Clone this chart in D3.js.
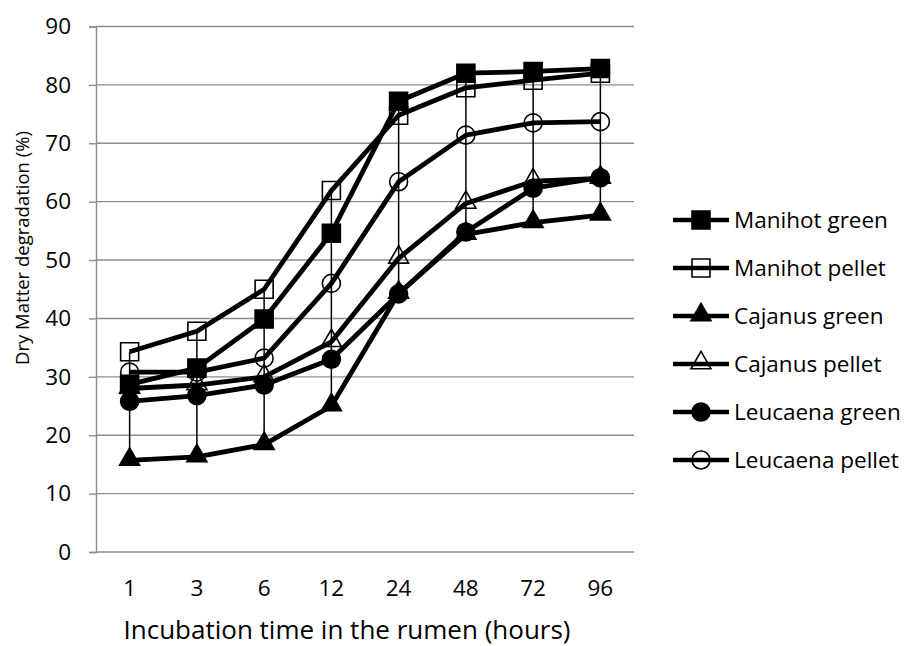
<!DOCTYPE html>
<html>
<head>
<meta charset="utf-8">
<script src="https://cdn.jsdelivr.net/npm/d3@7"></script>
<style>
  html, body { margin: 0; padding: 0; background: #fff; }
  svg { display: block; }
  text { font-family: "Open Sans", Lato, sans-serif; fill: #000; }
</style>
</head>
<body>
<svg id="chart" width="909" height="646"></svg>
<script>
const hours = ["1", "3", "6", "12", "24", "48", "72", "96"];
const yTicks = [0, 10, 20, 30, 40, 50, 60, 70, 80, 90];
const seriesNames = ["Manihot green", "Manihot pellet", "Cajanus green", "Cajanus pellet", "Leucaena green", "Leucaena pellet"];
const manihotGreen   = [28.7, 31.5, 39.9, 54.6, 77.2, 82.0, 82.3, 82.8];
const manihotPellet  = [34.3, 37.8, 45.0, 61.9, 74.8, 79.5, 80.8, 82.0];
const cajanusGreen   = [15.7, 16.3, 18.4, 25.0, 44.3, 54.4, 56.4, 57.7];
const cajanusPellet  = [28.0, 28.6, 30.0, 36.0, 50.3, 59.7, 63.5, 64.0];
const leucaenaGreen  = [25.8, 26.8, 28.6, 33.0, 44.2, 54.8, 62.3, 64.1];
const leucaenaPellet = [30.8, 30.8, 33.2, 46.0, 63.4, 71.4, 73.5, 73.7];
const markerShapes = ["square", "square", "triangle", "triangle", "circle", "circle"];
const markerFilled = [true, false, true, false, true, false];

const allValues = [manihotGreen, manihotPellet, cajanusGreen, cajanusPellet, leucaenaGreen, leucaenaPellet];
const series = seriesNames.map((name, i) => ({
  name, values: allValues[i], shape: markerShapes[i], filled: markerFilled[i]
}));

const svg = d3.select("#chart");
const pLeft = 96, pRight = 634, pTop = 26.5, pBottom = 552;
const FONT = "'Open Sans', Lato, sans-serif";

const x = d3.scaleBand().domain(hours).range([pLeft, pRight]);
const y = d3.scaleLinear().domain([0, 90]).range([pBottom, pTop]);
const cx = h => x(h) + x.bandwidth() / 2;

// gridlines
svg.append("g").selectAll("line").data(yTicks).join("line")
  .attr("x1", pLeft).attr("x2", pRight)
  .attr("y1", d => y(d)).attr("y2", d => y(d))
  .attr("stroke", "#8c8c8c").attr("stroke-width", 1.4);

// y axis
const yAxis = svg.append("g").attr("transform", `translate(${pLeft},0)`)
  .call(d3.axisLeft(y).tickValues(yTicks).tickSize(7).tickPadding(18));
yAxis.select(".domain").attr("stroke", "#8c8c8c").attr("stroke-width", 1.4);
yAxis.selectAll(".tick line").attr("stroke", "#8c8c8c").attr("stroke-width", 1.4);
yAxis.selectAll("text").attr("font-size", 22.5).attr("font-family", FONT).attr("fill", "#000");

// x labels
svg.append("g").selectAll("text").data(hours).join("text")
  .attr("x", d => cx(d)).attr("y", 596)
  .attr("text-anchor", "middle").attr("font-size", 22.5).text(d => d);

// axis titles
svg.append("text").attr("x", 347).attr("y", 639)
  .attr("text-anchor", "middle").attr("font-size", 26)
  .text("Incubation time in the rumen (hours)");
svg.append("text")
  .attr("transform", "translate(29,248) rotate(-90)")
  .attr("text-anchor", "middle").attr("font-size", 18.5)
  .text("Dry Matter degradation (%)");

// lines
const line = d3.line().x((d, i) => cx(hours[i])).y(d => y(d));
svg.append("g").selectAll("path").data(series).join("path")
  .attr("d", d => line(d.values))
  .attr("fill", "none").attr("stroke", "#000").attr("stroke-width", 4.8)
  .attr("stroke-linejoin", "round");

// high-low lines
svg.append("g").selectAll("line").data(hours).join("line")
  .attr("x1", d => cx(d)).attr("x2", d => cx(d))
  .attr("y1", (d, i) => y(d3.max(series, s => s.values[i])))
  .attr("y2", (d, i) => y(d3.min(series, s => s.values[i])))
  .attr("stroke", "#000").attr("stroke-width", 1.5);

function marker(g, shape, filled) {
  let sym, size;
  if (shape === "square") { sym = d3.symbolSquare; size = 18 * 18; }
  else if (shape === "triangle") { sym = d3.symbolTriangle; size = 0.433 * 20 * 20; }
  else { sym = d3.symbolCircle; size = Math.PI * 9 * 9; }
  g.append("path").attr("d", d3.symbol().type(sym).size(size)())
    .attr("transform", shape === "triangle" ? "translate(0,-1)" : null)
    .attr("fill", filled ? "#000" : "none")
    .attr("stroke", "#000").attr("stroke-width", 1.6);
}

// markers
series.forEach(s => {
  const g = svg.append("g");
  s.values.forEach((v, i) => {
    const m = g.append("g").attr("transform", `translate(${cx(hours[i])},${y(v)})`);
    marker(m, s.shape, s.filled);
  });
});

// legend
const leg = svg.append("g");
series.forEach((s, i) => {
  const ly = 220 + i * 48;
  leg.append("line").attr("x1", 673).attr("x2", 729).attr("y1", ly).attr("y2", ly)
    .attr("stroke", "#000").attr("stroke-width", 4.5);
  const m = leg.append("g").attr("transform", `translate(701,${ly})`);
  marker(m, s.shape, s.filled);
  leg.append("text").attr("x", 734).attr("y", ly + 7.5).attr("font-size", 22.5).text(s.name);
});
</script>
</body>
</html>
